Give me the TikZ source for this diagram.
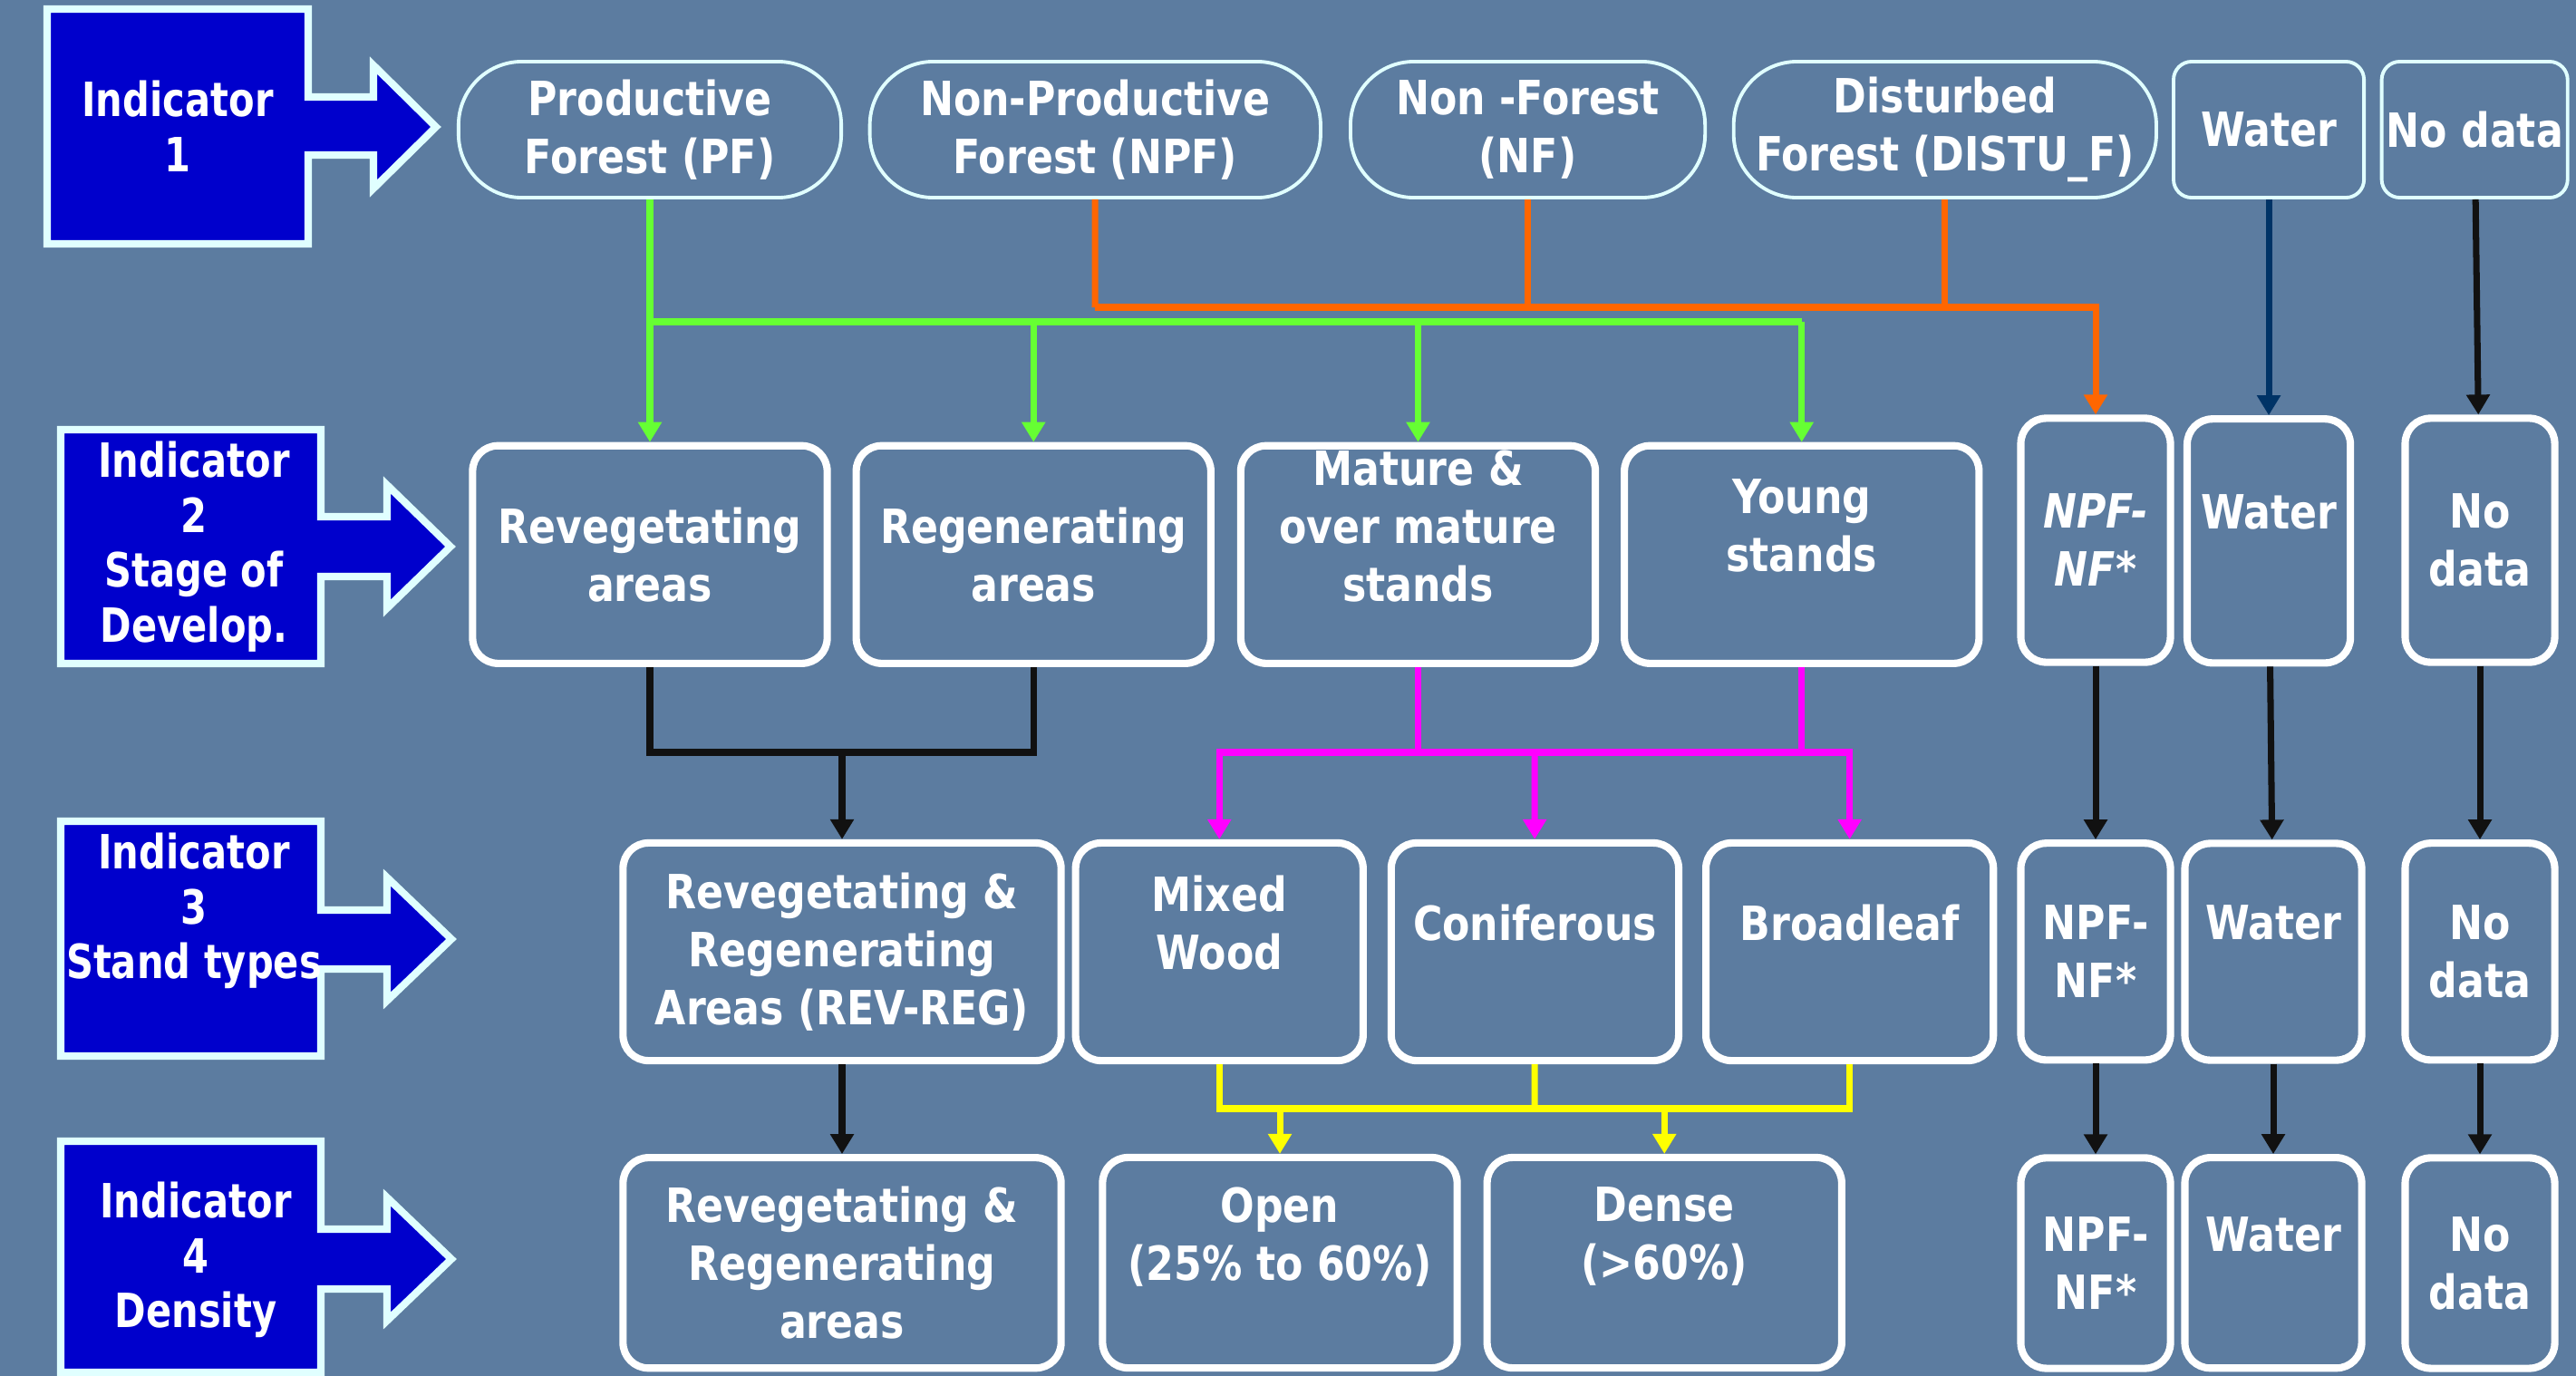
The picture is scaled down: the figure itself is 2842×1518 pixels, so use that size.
\documentclass[tikz,border=0pt]{standalone}
\usepackage{fontspec}
\usetikzlibrary{arrows.meta}
\newfontfamily\dejavu[FakeStretch=0.85]{DejaVu Sans}
\newfontfamily\dejavunarrow[FakeStretch=0.8]{DejaVu Sans}
\newcommand{\boxfont}{\dejavu\bfseries\fontsize{14.8}{18.2}\selectfont}
\newcommand{\indfont}{\dejavunarrow\bfseries\fontsize{14.8}{17.2}\selectfont}
\definecolor{bgblue}{RGB}{92,124,160}
\definecolor{paleblue}{RGB}{224,255,255}
\definecolor{indblue}{RGB}{0,0,204}
\definecolor{linegreen}{RGB}{102,255,51}
\definecolor{lineorange}{RGB}{255,102,0}
\definecolor{linemagenta}{RGB}{255,0,255}
\definecolor{lineyellow}{RGB}{255,255,0}
\definecolor{lineblack}{RGB}{17,17,17}
\definecolor{linenavy}{RGB}{0,51,102}
\newlength{\blockwidth}
\setlength{\blockwidth}{3.91cm}
\newlength{\wideblock}
\setlength{\wideblock}{4.83cm}
\newlength{\typewidth}
\setlength{\typewidth}{3.17cm}
\newlength{\narrowwidth}
\setlength{\narrowwidth}{1.65cm}
\newlength{\blockheight}
\setlength{\blockheight}{2.4cm}
\newlength{\tallheight}
\setlength{\tallheight}{2.69cm}
\newlength{\lowheight}
\setlength{\lowheight}{2.32cm}
\tikzstyle{topbox} = [rectangle, draw=paleblue, line width=1.1pt, rounded corners=0.7cm, minimum height=1.5cm, inner sep=0pt, text=white, align=center, font=\boxfont]
\tikzstyle{sidebox} = [topbox, rounded corners=0.2cm]
\tikzstyle{block} = [rectangle, draw=white, line width=2.3pt, rounded corners=0.28cm, inner sep=0pt, text=white, align=center, font=\boxfont]
\tikzstyle{indicator} = [draw=paleblue, fill=indblue, line width=2.3pt, line join=miter]
\tikzstyle{indtext} = [text=white, align=center, font=\indfont]
\tikzstyle{arrow} = [line width=2pt, -{Triangle[length=0.22cm, width=0.25cm]}]
\tikzstyle{bus} = [line width=2pt]

\begin{document}
\begin{tikzpicture}[x=0.01cm, y=-0.01cm]

    % Background
    \useasboundingbox (0,0) rectangle (2842,1518);
    \fill [bgblue] (0,0) rectangle (2842,1518);

    % Indicators
    \draw [indicator] (52,10) -- (340,10) -- (340,107) -- (412,107) -- (412,72) -- (481,140) -- (412,208) -- (412,171) -- (340,171) -- (340,269) -- (52,269) -- cycle;
    \draw [indicator] (67,474) -- (354,474) -- (354,570) -- (427,570) -- (427,535) -- (497,603) -- (427,671) -- (427,636) -- (354,636) -- (354,732) -- (67,732) -- cycle;
    \draw [indicator] (67,906) -- (354,906) -- (354,1004) -- (427,1004) -- (427,968) -- (498,1036) -- (427,1104) -- (427,1069) -- (354,1069) -- (354,1165) -- (67,1165) -- cycle;
    \draw [indicator] (67,1259) -- (354,1259) -- (354,1356) -- (427,1356) -- (427,1321) -- (498,1389) -- (427,1457) -- (427,1422) -- (354,1422) -- (354,1514) -- (67,1514) -- cycle;

    \node (ind1) [indtext] at (196,139) {Indicator\\1};
    \node (ind2) [indtext] at (214,603) {Indicator\\2\\Stage of\\Develop.};
    \node (ind3) [indtext] at (214,1005) {Indicator\\3\\Stand types};
    \node (ind4) [indtext] at (216,1390) {Indicator\\4\\Density};

    % Indicator 1
    \node (pf) [topbox, minimum width=4.22cm] at (717,143) {Productive\\Forest (PF)};
    \node (npf) [topbox, minimum width=4.97cm, right of=pf, node distance=4.91cm] {Non-Productive\\Forest (NPF)};
    \node (nf) [topbox, minimum width=3.91cm, right of=npf, node distance=4.77cm] {Non -Forest\\(NF)};
    \node (distu) [topbox, minimum width=4.66cm, right of=nf, node distance=4.60cm] {Disturbed\\Forest (DISTU\_F)};
    \node (water1) [sidebox, minimum width=2.10cm, right of=distu, node distance=3.57cm] {Water};
    \node (nodata1) [sidebox, minimum width=2.05cm, right of=water1, node distance=2.27cm] {No data};

    % Indicator 2
    \node (rev) [block, minimum width=\blockwidth, minimum height=\blockheight, below of=pf, node distance=4.685cm] {Revegetating\\areas};
    \node (reg) [block, minimum width=\blockwidth, minimum height=\blockheight, right of=rev, node distance=4.23cm] {Regenerating\\areas};
    \node (mat) [block, minimum width=\blockwidth, minimum height=\blockheight, right of=reg, node distance=4.24cm] {Mature \&\\over mature\\stands\\~};
    \node (yng) [block, minimum width=\blockwidth, minimum height=\blockheight, right of=mat, node distance=4.23cm] {Young\\stands\\~};
    \node (npf2) [block, font=\boxfont\itshape, minimum width=\narrowwidth, minimum height=\tallheight] at (2312,596) {NPF-\\NF*};
    \node (water2) [block, minimum width=1.80cm, minimum height=\tallheight, below of=water1, node distance=4.535cm] {Water\\~};
    \node (nodata2) [block, minimum width=\narrowwidth, minimum height=\tallheight] at (2736,596) {No\\data};

    % Indicator 3
    \node (rr3) [block, minimum width=\wideblock, minimum height=\blockheight] at (929,1050) {Revegetating \&\\Regenerating\\Areas (REV-REG)};
    \node (mix) [block, minimum width=\typewidth, minimum height=\blockheight, right of=rr3, node distance=4.16cm] {Mixed\\Wood\\~};
    \node (con) [block, minimum width=\typewidth, minimum height=\blockheight, right of=mix, node distance=3.48cm] {Coniferous\\~};
    \node (brd) [block, minimum width=\typewidth, minimum height=\blockheight, right of=con, node distance=3.47cm] {Broadleaf\\~};
    \node (npf3) [block, minimum width=\narrowwidth, minimum height=2.39cm, below of=npf2, node distance=4.535cm] {NPF-\\NF*};
    \node (water3) [block, minimum width=1.95cm, minimum height=2.39cm] at (2508,1050) {Water\\~};
    \node (nodata3) [block, minimum width=\narrowwidth, minimum height=2.39cm, below of=nodata2, node distance=4.535cm] {No\\data};

    % Indicator 4
    \node (rr4) [block, minimum width=\wideblock, minimum height=\lowheight, below of=rr3, node distance=3.43cm] {Revegetating \&\\Regenerating\\areas};
    \node (open) [block, minimum width=\blockwidth, minimum height=\lowheight] at (1412,1393) {Open\\(25\% to 60\%)\\~};
    \node (dense) [block, minimum width=\blockwidth, minimum height=\lowheight, right of=open, node distance=4.24cm] {Dense\\(>60\%)\\~};
    \node (npf4) [block, minimum width=\narrowwidth, minimum height=\lowheight, below of=npf3, node distance=3.435cm] {NPF-\\NF*};
    \node (water4) [block, minimum width=1.95cm, minimum height=\lowheight, below of=water3, node distance=3.43cm] {Water\\~};
    \node (nodata4) [block, minimum width=\narrowwidth, minimum height=\lowheight, below of=nodata3, node distance=3.435cm] {No\\data};

    % ==== Arrows
    \coordinate (gbus) at (717,355);
    \coordinate (obus) at (1208,339);
    \coordinate (kbus) at (929,830);
    \coordinate (mbus) at (1693,830);
    \coordinate (ybus) at (1693,1223);

    % Forest classes
    \draw [bus, linegreen] (pf) -- (gbus) -- (gbus -| yng);
    \draw [arrow, linegreen] (gbus) -- (rev);
    \draw [arrow, linegreen] (gbus -| reg) -- (reg);
    \draw [arrow, linegreen] (gbus -| mat) -- (mat);
    \draw [arrow, linegreen] (gbus -| yng) -- (yng);

    % Non forest classes
    \draw [bus, lineorange] (npf) -- (obus);
    \draw [bus, lineorange] (nf) -- (nf |- obus);
    \draw [bus, lineorange] (distu) -- (distu |- obus);
    \draw [arrow, lineorange] (obus) -| (npf2);
    \draw [arrow, linenavy] (water1) -- (water2);
    \draw [arrow, lineblack] (nodata1) -- (nodata2);

    % Stage of development
    \draw [bus, lineblack] (rev) |- (kbus -| reg) -- (reg);
    \draw [arrow, lineblack] (kbus) -- (rr3);
    \draw [bus, linemagenta] (mat) -- (mat |- mbus);
    \draw [bus, linemagenta] (yng) -- (yng |- mbus);
    \draw [arrow, linemagenta] (mbus) -| (mix);
    \draw [arrow, linemagenta] (mbus) -- (con);
    \draw [arrow, linemagenta] (mbus) -| (brd);

    % Stand types
    \draw [bus, lineyellow] (mix) |- (ybus -| brd) -- (brd);
    \draw [bus, lineyellow] (con) -- (ybus);
    \draw [arrow, lineyellow] (ybus -| open) -- (open);
    \draw [arrow, lineyellow] (ybus -| dense) -- (dense);
    \draw [arrow, lineblack] (rr3) -- (rr4);

    % Right columns
    \draw [arrow, lineblack] (npf2) -- (npf3);
    \draw [arrow, lineblack] (npf3) -- (npf4);
    \draw [arrow, lineblack] (water2) -- (water3);
    \draw [arrow, lineblack] (water3) -- (water4);
    \draw [arrow, lineblack] (nodata2) -- (nodata3);
    \draw [arrow, lineblack] (nodata3) -- (nodata4);

\end{tikzpicture}
\end{document}
